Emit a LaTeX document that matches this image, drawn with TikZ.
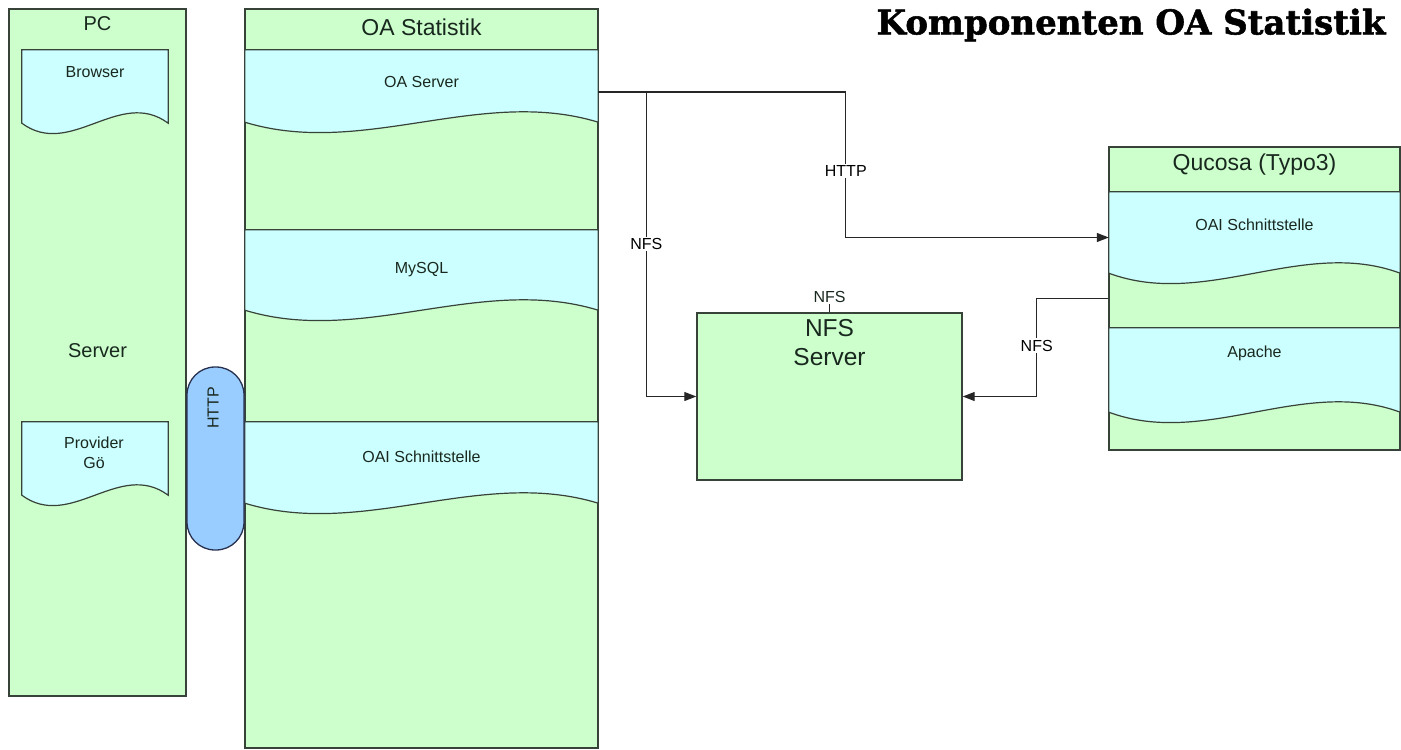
\documentclass[tikz,border=0pt]{standalone}
\usepackage{fontspec}
\setmainfont{Liberation Sans}
\newfontfamily\titlefont{DejaVu Serif}[BoldFeatures={FakeBold=1.6}]
\usepackage{tikz}
\usetikzlibrary{shapes.geometric, arrows.meta, positioning, calc}
\definecolor{boxgreen}{RGB}{204,255,204}
\definecolor{doccyan}{RGB}{204,255,255}
\definecolor{pipeblue}{RGB}{153,204,255}
\definecolor{edgegrey}{RGB}{55,66,57}
\definecolor{pipeedge}{RGB}{40,50,80}
\definecolor{txtdark}{RGB}{25,40,30}
\tikzstyle{container} = [rectangle, draw=edgegrey, fill=boxgreen, line width=1.4pt, inner sep=0pt]
\tikzstyle{band} = [rectangle, inner sep=0pt]
\tikzstyle{docfill} = [draw=edgegrey, fill=doccyan, line width=1.2pt]
\tikzstyle{small} = [font=\fontsize{16}{20}\selectfont, text=txtdark, inner sep=1pt, align=center]
\tikzstyle{big} = [font=\fontsize{23}{29}\selectfont, text=txtdark, inner sep=0pt, align=center]
\tikzstyle{conlabel} = [font=\fontsize{16}{20}\selectfont, fill=white, inner sep=1.5pt]
\tikzstyle{arrow} = [line width=1.2pt, draw=black!85, -{Triangle[length=12pt,width=9pt]}]
\tikzstyle{link} = [line width=1.2pt, draw=black!85]
% wavy bottom of a band node
\newcommand{\wave}[1]{%
  \filldraw[docfill] (#1.north west) -- (#1.north east) -- (#1.south east)
    .. controls ($(#1.south east)!0.333!(#1.south west)+(0,-36)$) and ($(#1.south west)!0.333!(#1.south east)+(0,36)$) .. (#1.south west) -- cycle;}

\begin{document}
\begin{tikzpicture}[x=1pt, y=-1pt]
  \useasboundingbox (0,0) rectangle (1401,750);

  % PC
  \node (pc) [container, minimum width=177pt, minimum height=687pt] at (97.5,352.5) {};
  \node (browser) [band, minimum width=146pt, minimum height=73pt] at (95,86.5) {};
  \wave{browser}
  \node (provider) [band, minimum width=146pt, minimum height=73pt] at (95,458.5) {};
  \wave{provider}
  \node (pctitle) [big, font=\fontsize{20}{24}\selectfont] at (97.5,24) {PC};
  \node (pcserver) [big, font=\fontsize{20}{24}\selectfont] at (97.5,351) {Server};
  \node (browsertxt) [small] at (95,72) {Browser};
  \node (providertxt) [small] at (94,453) {Provider\\Gö};

  % OA Statistik
  \node (oa) [container, minimum width=353pt, minimum height=739pt] at (421.5,378.5) {};
  \draw [docfill] (oa.north west |- 0,50) -- (oa.north east |- 0,50);
  \node (oasrv) [band, minimum width=353pt, minimum height=72pt] at (421.5,86) {};
  \wave{oasrv}
  \node (mysql) [band, minimum width=353pt, minimum height=80pt] at (421.5,270) {};
  \wave{mysql}
  \node (oai) [band, minimum width=353pt, minimum height=81pt] at (421.5,462.5) {};
  \wave{oai}
  \node (oatitle) [big] at (421.5,27) {OA Statistik};
  \node (oasrvtxt) [small] at (421.5,82) {OA Server};
  \node (mysqltxt) [small] at (421.5,270) {MySQL};
  \node (oaitxt) [small] at (421.5,457) {OAI Schnittstelle};

  % HTTP pipe between PC and OA
  \node (pipe) [rectangle, rounded corners=28pt, draw=pipeedge, fill=pipeblue, line width=1.3pt, minimum width=57pt, minimum height=183pt] at (215.5,458.5) {};
  \node (pipetxt) [small, rotate=90] at (213,408) {HTTP};

  % Qucosa
  \node (qucosa) [container, minimum width=291pt, minimum height=303pt] at (1254.5,298.5) {};
  \node (qoai) [band, minimum width=291pt, minimum height=81pt] at (1254.5,232.5) {};
  \wave{qoai}
  \node (apache) [band, minimum width=291pt, minimum height=84pt] at (1254.5,370) {};
  \wave{apache}
  \node (qtitle) [big] at (1254.5,165) {Qucosa (Typo3)};
  \node (qoaitxt) [small] at (1254.5,225) {OAI Schnittstelle};
  \node (apachetxt) [small] at (1254.5,353) {Apache};

  % NFS Server
  \node (nfs) [container, minimum width=265pt, minimum height=167pt] at (829.5,396.5) {};
  \node (nfstxt) [big, font=\fontsize{24.5}{29}\selectfont] at (829.5,343) {NFS\\Server};
  \node (nfstop) [small] at (829.5,297) {NFS};
  \draw [link] (nfstop.south) -- (nfs.north);

  % Connections
  \draw [arrow] ([yshift=-6pt]oasrv.east) -| node [conlabel, pos=0.77] {HTTP} ([xshift=-263pt, yshift=-5pt]qoai.west) -- ([yshift=-5pt]qoai.west);
  \draw [arrow] ([yshift=-6pt]oasrv.east) -| node [conlabel, pos=0.75] {NFS} ([xshift=-50pt]nfs.west) -- (nfs.west);
  \draw [arrow] (qucosa.west) -| node [conlabel, pos=0.74] {NFS} ([xshift=74pt]nfs.east) -- (nfs.east);

  % Title
  \node (title) [font=\titlefont\bfseries\fontsize{34}{38}\selectfont] at (1131,25) {Komponenten OA Statistik};
\end{tikzpicture}
\end{document}
